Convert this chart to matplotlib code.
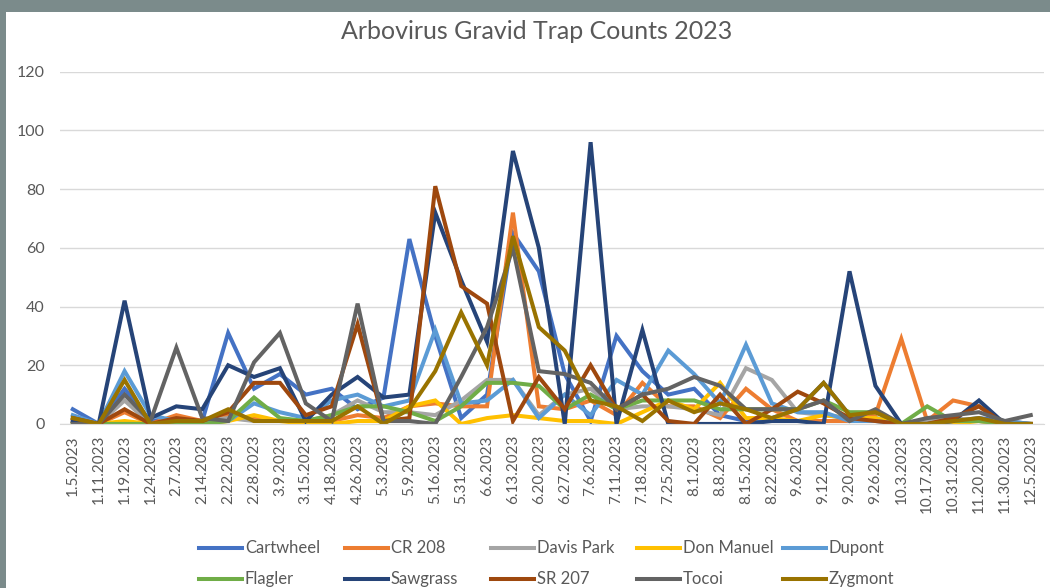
import matplotlib
matplotlib.use("Agg")
import matplotlib.pyplot as plt
from matplotlib.patches import Rectangle

plt.rcParams['font.family'] = ['Lato', 'DejaVu Sans']

dates = ['1.5.2023', '1.11.2023', '1.19.2023', '1.24.2023', '2.7.2023', '2.14.2023',
         '2.22.2023', '2.28.2023', '3.9.2023', '3.15.2023', '4.18.2023', '4.26.2023',
         '5.3.2023', '5.9.2023', '5.16.2023', '5.31.2023', '6.6.2023', '6.13.2023',
         '6.20.2023', '6.27.2023', '7.6.2023', '7.11.2023', '7.18.2023', '7.25.2023',
         '8.1.2023', '8.8.2023', '8.15.2023', '8.22.2023', '9.6.2023', '9.12.2023',
         '9.20.2023', '9.26.2023', '10.3.2023', '10.17.2023', '10.31.2023', '11.20.2023',
         '11.30.2023', '12.5.2023']

cartwheel = [5, 0, 12, 1, 2, 1, 31, 12, 17, 10, 12, 5, 9, 63, 30, 2, 10, 65, 52, 17,
             1, 30, 18, 10, 12, 3, 1, 2, 5, 14, 3, 2, 0, 0, 1, 2, 1, 0]
cr208 = [1, 0, 4, 0, 3, 1, 3, 2, 1, 1, 1, 3, 2, 6, 7, 6, 6, 72, 6, 5,
         8, 3, 14, 6, 6, 2, 12, 5, 1, 1, 1, 3, 29, 1, 8, 6, 0, 0]
davis_park = [1, 0, 8, 0, 1, 1, 2, 1, 1, 1, 3, 8, 4, 4, 3, 8, 15, 15, 3, 10,
              12, 5, 6, 6, 5, 3, 19, 15, 4, 3, 2, 2, 0, 1, 2, 1, 0, 0]
don_manuel = [0, 0, 1, 0, 1, 0, 1, 3, 1, 0, 0, 1, 1, 6, 8, 0, 2, 3, 2, 1,
              1, 0, 4, 8, 5, 14, 2, 2, 1, 3, 2, 2, 0, 0, 0, 1, 0, 0]
dupont = [3, 0, 18, 3, 1, 1, 1, 7, 4, 2, 8, 10, 6, 8, 32, 7, 8, 15, 2, 10,
          3, 15, 10, 25, 17, 7, 27, 7, 4, 4, 1, 1, 0, 0, 1, 1, 1, 0]
flagler = [0, 0, 0, 0, 0, 0, 1, 9, 2, 1, 3, 6, 6, 4, 1, 6, 14, 14, 13, 5,
           10, 5, 8, 8, 8, 5, 5, 5, 5, 8, 4, 4, 0, 6, 1, 1, 0, 0]
sawgrass = [1, 0, 42, 2, 6, 5, 20, 16, 19, 1, 10, 16, 9, 10, 72, 49, 28, 93, 60, 0,
            96, 0, 32, 0, 0, 0, 0, 1, 1, 0, 52, 13, 0, 0, 1, 8, 0, 0]
sr207 = [2, 0, 5, 0, 2, 1, 4, 14, 14, 3, 6, 34, 1, 2, 81, 47, 41, 1, 16, 5,
         20, 5, 10, 1, 0, 10, 0, 5, 11, 7, 2, 1, 0, 0, 2, 6, 0, 0]
tocoi = [0, 0, 10, 1, 26, 2, 1, 21, 31, 7, 1, 41, 1, 1, 0, 16, 33, 60, 18, 17,
         14, 5, 10, 12, 16, 13, 5, 5, 5, 8, 1, 5, 0, 2, 3, 4, 1, 3]
zygmont = [2, 0, 15, 0, 1, 1, 5, 1, 1, 1, 1, 6, 0, 5, 18, 38, 20, 64, 33, 25,
           8, 6, 1, 8, 4, 7, 5, 2, 5, 14, 3, 4, 0, 0, 1, 2, 0, 0]

series_names = ['Cartwheel', 'CR 208', 'Davis Park', 'Don Manuel', 'Dupont',
                'Flagler', 'Sawgrass', 'SR 207', 'Tocoi', 'Zygmont']
series_values = [cartwheel, cr208, davis_park, don_manuel, dupont,
                 flagler, sawgrass, sr207, tocoi, zygmont]
colors = ['#4472C4', '#ED7D31', '#A5A5A5', '#FFC000', '#5B9BD5',
          '#70AD47', '#264478', '#9E480E', '#636363', '#997300']

fig = plt.figure(figsize=(10.5, 5.88), dpi=100)
fig.patch.set_facecolor('white')

# grey slide frame around the chart
fig.patches.append(Rectangle((0, 0.979), 1, 0.021, transform=fig.transFigure,
                             facecolor='#7b8b8b', edgecolor='none', zorder=0))
fig.patches.append(Rectangle((0, 0), 0.0057, 1, transform=fig.transFigure,
                             facecolor='#7b8b8b', edgecolor='none', zorder=0))

ax = fig.add_axes([0.057, 0.279, 0.937, 0.599])
x = list(range(len(dates)))
lines = []
for name, vals, c in zip(series_names, series_values, colors):
    ln, = ax.plot(x, vals, color=c, lw=2.9, label=name, solid_joinstyle='miter')
    lines.append(ln)

ax.set_xlim(-0.5, len(dates) - 0.5)
ax.set_ylim(0, 120)
ax.set_yticks(range(0, 121, 20))
ax.set_xticks(x)
ax.set_xticklabels(dates, rotation=90)
ax.tick_params(axis='both', length=0, colors='#595959')
ax.tick_params(axis='y', pad=11, labelsize=11.5)
ax.tick_params(axis='x', pad=8, labelsize=11)
ax.grid(axis='y', color='#d9d9d9', lw=1)
ax.set_axisbelow(True)
for s in ['top', 'right', 'left']:
    ax.spines[s].set_visible(False)
ax.spines['bottom'].set_color('#d9d9d9')

fig.text(0.511, 0.946, 'Arbovirus Gravid Trap Counts 2023', ha='center', va='center',
         fontsize=18, color='#595959')

# legend: 5 fixed-pitch columns, two rows each
for col in range(5):
    idx = [col, col + 5]
    leg = fig.legend([lines[i] for i in idx], [series_names[i] for i in idx],
                     loc='center left', bbox_to_anchor=((199 + 146 * col) / 1050, 0.041),
                     frameon=False, fontsize=12, handlelength=2.6, handletextpad=0.15,
                     labelspacing=0.9, borderpad=0, borderaxespad=0)
    for t in leg.get_texts():
        t.set_color('#595959')

fig.savefig('out.png', dpi=100)
